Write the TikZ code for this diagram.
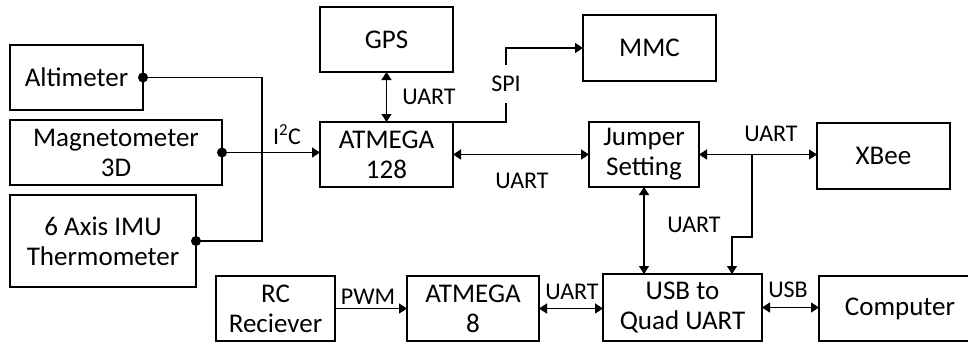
\documentclass[tikz,border=0pt]{standalone}
\usepackage{fontspec}
\setmainfont{Carlito}
\usetikzlibrary{arrows.meta,calc}
\begin{document}
\begin{tikzpicture}[x=1pt,y=-1pt,
  box/.style={draw,line width=1.5pt,inner sep=0pt,outer sep=0pt,anchor=north west,align=center,font=\fontsize{27}{30}\selectfont},
  lab/.style={inner sep=0pt,font=\fontsize{24}{28}\selectfont},
  conn/.style={line width=1.5pt},
  arr/.style={conn,-{Triangle[length=8pt,width=10pt]}},
  darr/.style={conn,{Triangle[length=8pt,width=10pt]}-{Triangle[length=8pt,width=10pt]}},
  dot/.style={circle,fill,inner sep=0pt,minimum size=10pt}]
\fill[white] (0,0) rectangle (968,343);
\clip (0,0) rectangle (968,343);
% boxes
\node[box,minimum width=133pt,minimum height=65pt] (alt) at (10,45) {Altimeter};
\node[box,minimum width=212pt,minimum height=65pt] (mag) at (10,120) {Magnetometer\\3D};
\node[box,minimum width=186pt,minimum height=92pt] (imu) at (10,195) {6 Axis IMU\\Thermometer};
\node[box,minimum width=133pt,minimum height=65pt] (gps) at (320,7) {GPS};
\node[box,minimum width=133pt,minimum height=65pt] (a128) at (320,122) {ATMEGA\\128};
\node[box,minimum width=133pt,minimum height=66pt] (mmc) at (583,15) {MMC};
\node[box,minimum width=110pt,minimum height=65pt] (jump) at (589,122) {Jumper\\Setting};
\node[box,minimum width=133pt,minimum height=66pt] (xbee) at (817,123) {XBee};
\node[box,minimum width=119pt,minimum height=65pt] (rc) at (216,276) {RC\\Reciever};
\node[box,minimum width=132pt,minimum height=65pt] (a8) at (407,276) {ATMEGA\\8};
\node[box,minimum width=159pt,minimum height=67pt] (usb) at (603,274) {USB to\\Quad UART};
\node[box,minimum width=162pt,minimum height=65pt] (comp) at (819,276) {Computer};
% labels
\node[lab] (li2c) at (287,135) {I\textsuperscript{2}C};
\node[lab] (lgps) at (429,97) {UART};
\node[lab,minimum height=38pt] (spi) at (506,84) {SPI};
\node[lab] (lu1) at (522,181) {UART};
\node[lab] (lu2) at (771,134) {UART};
\node[lab] (lu3) at (694,225) {UART};
\node[lab] (lpwm) at (368,297) {PWM};
\node[lab] (lu4) at (572,292) {UART};
\node[lab] (lusb) at (788,290) {USB};
% I2C bus
\draw[conn] (alt.east) -| ($(imu.east)+(66,0)$) -- (imu.east);
\draw[arr] (mag.east) -- (mag.east -| a128.west);
\node[dot] (d1) at (alt.east) {};
\node[dot] (d2) at (mag.east) {};
\node[dot] (d3) at (imu.east) {};
% connections
\draw[darr] (gps.south) -- (a128.north);
\draw[conn] (a128.north east) -| (spi.south);
\draw[arr] (spi.north) |- (mmc.west);
\draw[darr] (a128.east) -- (jump.west);
\draw[darr] (jump.east) -- (jump.east -| xbee.west);
\coordinate (br) at (752,154.5);
\coordinate (usbin) at (732,274);
\draw[arr] (br) |- ($(usbin)+(0,-37)$) -- (usbin);
\draw[darr] (jump.south) -- (jump.south |- usb.north);
\draw[arr] (rc.east) -- (a8.west);
\draw[darr] (a8.east) -- (usb.west |- a8.east);
\draw[darr] (usb.east) -- (usb.east -| comp.west);
\end{tikzpicture}
\end{document}
